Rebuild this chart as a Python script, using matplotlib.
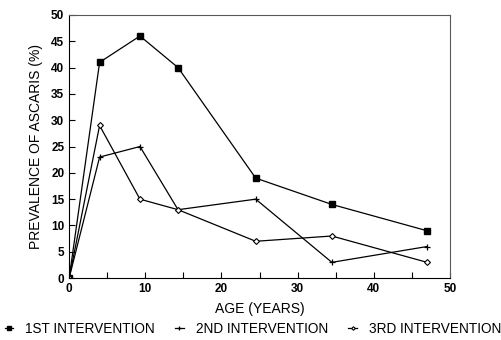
import numpy as np
import matplotlib.pyplot as plt

plt.rcParams['font.family'] = ['Liberation Sans', 'DejaVu Sans']

age = [0, 4, 9.3, 14.3, 24.5, 34.5, 47]
first = [0, 41, 46, 40, 19, 14, 9]
second = [0, 23, 25, 13, 15, 3, 6]
third = [0, 29, 15, 13, 7, 8, 3]
labels = ["1ST INTERVENTION", "2ND INTERVENTION", "3RD INTERVENTION"]

fig = plt.figure(figsize=(5.01, 3.40), dpi=100)
ax = fig.add_axes([0.138, 0.182, 0.760, 0.774])

h1, = ax.plot(age, first, color='k', lw=0.9, marker='s', ms=4.5)
h2, = ax.plot(age, second, color='k', lw=0.9, marker='+', ms=5, mew=0.9)
h3, = ax.plot(age, third, color='k', lw=0.9, marker='D', ms=3,
              mfc='white', mew=0.8)

ax.set_xlim(0, 50)
ax.set_ylim(0, 50)
ax.set_xticks(range(0, 51, 10))
ax.set_xticks(range(0, 51, 5), minor=True)
ax.set_yticks(range(0, 51, 5))
ax.tick_params(direction='in', length=4, labelsize=8.5, width=0.8)
ax.tick_params(which='minor', direction='in', length=4, width=0.8)
for lab in ax.get_xticklabels() + ax.get_yticklabels():
    lab.set_fontweight('bold')
for s in ['top', 'right']:
    ax.spines[s].set_color('0.35')
    ax.spines[s].set_linewidth(0.8)

ax.set_xlabel("AGE (YEARS)", fontsize=10, labelpad=5)
ax.set_ylabel("PREVALENCE OF ASCARIS (%)", fontsize=10, labelpad=6)

fig.legend([h1, h2, h3], labels, loc='lower center', ncol=3,
           bbox_to_anchor=(0.505, -0.025), frameon=False, fontsize=9.8,
           markerscale=0.6, handlelength=0.6, handletextpad=0.9,
           columnspacing=1.5)

fig.savefig("out.png", dpi=100)
